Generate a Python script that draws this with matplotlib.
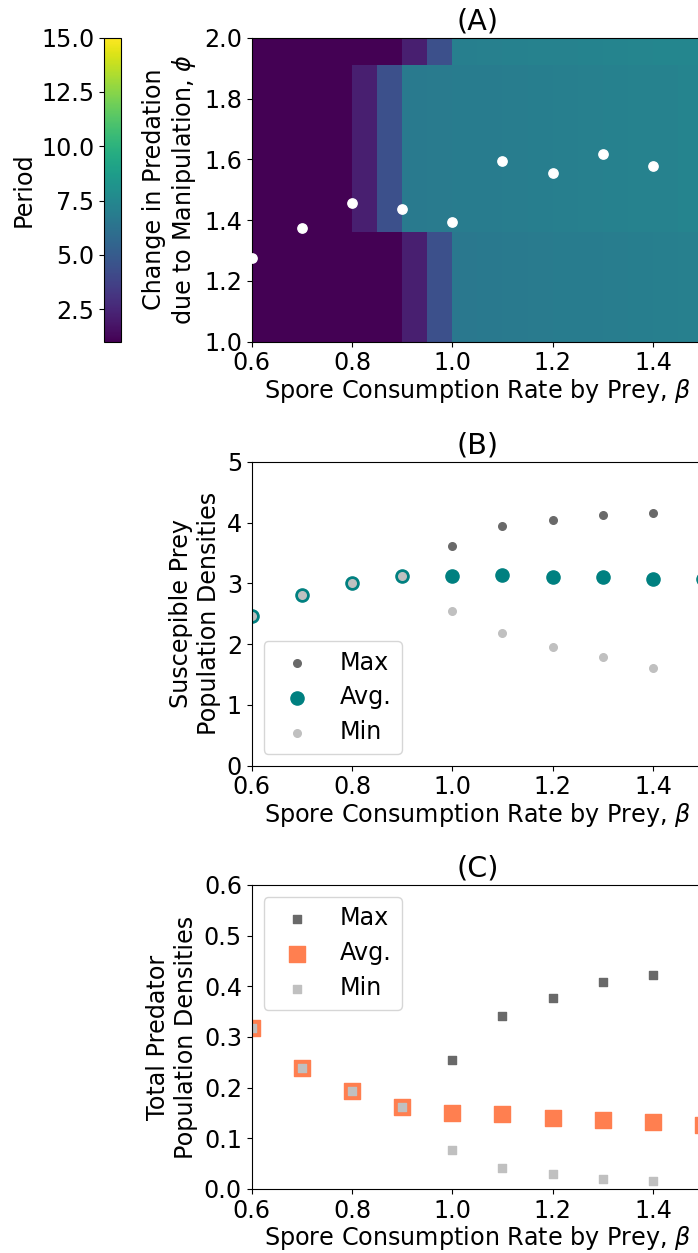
import numpy as np
import matplotlib
matplotlib.use('Agg')
import matplotlib.pyplot as plt

FS = 17.2
plt.rcParams['font.size'] = FS

# (A) period heat map, columns of width 0.05 in beta, three phi bands
beta_edges = [0.6, 0.65, 0.7, 0.75, 0.8, 0.85, 0.9, 0.95, 1.0, 1.05,
              1.1, 1.15, 1.2, 1.25, 1.3, 1.35, 1.4, 1.45, 1.5]
phi_edges = [1.0, 1.36, 1.91, 2.0]
period_low = [1, 1, 1, 1, 1, 1, 2.2, 4.4,
              6.6, 6.65, 6.7, 6.75, 6.8, 6.85, 6.9, 6.95, 7.0, 7.05]
period_mid = [1, 1, 1, 1, 2.2, 4.4,
              6.7, 6.75, 6.8, 6.85, 6.9, 6.95, 7.0, 7.05, 7.1, 7.15, 7.2, 7.3]
period_top = [1, 1, 1, 1, 1, 1, 2.2, 4.4,
              7.0, 7.05, 7.1, 7.15, 7.2, 7.25, 7.3, 7.35, 7.4, 7.45]

beta_pts = [0.6, 0.7, 0.8, 0.9, 1.0, 1.1, 1.2, 1.3, 1.4]
phi_pts = [1.274, 1.373, 1.457, 1.436, 1.393, 1.596, 1.556, 1.616, 1.577]

beta = [0.6, 0.7, 0.8, 0.9, 1.0, 1.1, 1.2, 1.3, 1.4, 1.5]

# (B) susceptible prey
prey_max = [2.46, 2.81, 3.01, 3.125, 3.62, 3.94, 4.04, 4.12, 4.16, 4.19]
prey_avg = [2.46, 2.81, 3.01, 3.125, 3.125, 3.13, 3.10, 3.11, 3.065, 3.065]
prey_min = [2.46, 2.81, 3.01, 3.125, 2.55, 2.19, 1.96, 1.78, 1.61, 1.47]

# (C) total predator
pred_max = [0.317, 0.239, 0.193, 0.162, 0.255, 0.341, 0.376, 0.408, 0.422, 0.43]
pred_avg = [0.317, 0.239, 0.193, 0.162, 0.149, 0.147, 0.141, 0.1355, 0.1316, 0.126]
pred_min = [0.317, 0.239, 0.193, 0.162, 0.077, 0.0414, 0.0296, 0.0197, 0.0158, 0.012]

xlab = r'Spore Consumption Rate by Prey, $\beta$'

fig = plt.figure(figsize=(6.98, 12.53), dpi=100)
left, width, h = 0.3606, 0.6466, 0.2426
axA = fig.add_axes([left, 0.7273, width, h])
cax = fig.add_axes([0.149, 0.7273, 0.0244, h])
axB = fig.add_axes([left, 0.3889, width, h])
axC = fig.add_axes([left, 0.0511, width, h])

grid = np.array([period_low, period_mid, period_top])
mesh = axA.pcolormesh(beta_edges, phi_edges, grid, cmap='viridis',
                      vmin=1, vmax=15, shading='flat')
axA.scatter(beta_pts, phi_pts, s=45, color='white', zorder=3, clip_on=False)
axA.set_xlim(0.6, 1.5)
axA.set_ylim(1.0, 2.0)
axA.set_xticks([0.6, 0.8, 1.0, 1.2, 1.4])
axA.set_title('(A)')
axA.set_xlabel(xlab, labelpad=1)
axA.set_ylabel('Change in Predation\ndue to Manipulation, $\\phi$')

cb = fig.colorbar(mesh, cax=cax)
cb.set_ticks([2.5, 5.0, 7.5, 10.0, 12.5, 15.0])
cax.yaxis.set_ticks_position('left')
cax.yaxis.set_label_position('left')
cb.set_label('Period')

# (B)
axB.scatter(beta, prey_max, s=30, color='dimgray', label='Max')
axB.scatter(beta, prey_avg, s=90, color='teal', label='Avg.')
axB.scatter(beta, prey_min, s=30, color='silver', label='Min')
axB.set_xlim(0.6, 1.5)
axB.set_ylim(0, 5)
axB.set_xticks([0.6, 0.8, 1.0, 1.2, 1.4])
axB.set_title('(B)')
axB.set_xlabel(xlab, labelpad=1)
axB.set_ylabel('Suscepible Prey\nPopulation Densities')
axB.legend(loc='lower left', labelspacing=0.45)

# (C)
axC.scatter(beta, pred_max, s=28, marker='s', color='dimgray', label='Max')
axC.scatter(beta, pred_avg, s=120, marker='s', color='coral', label='Avg.')
axC.scatter(beta, pred_min, s=28, marker='s', color='silver', label='Min')
axC.set_xlim(0.6, 1.5)
axC.set_ylim(0, 0.6)
axC.set_xticks([0.6, 0.8, 1.0, 1.2, 1.4])
axC.set_title('(C)')
axC.set_xlabel(xlab, labelpad=1)
axC.set_ylabel('Total Predator\nPopulation Densities')
axC.legend(loc='upper left', labelspacing=0.45)

fig.savefig('out.png', dpi=100)
